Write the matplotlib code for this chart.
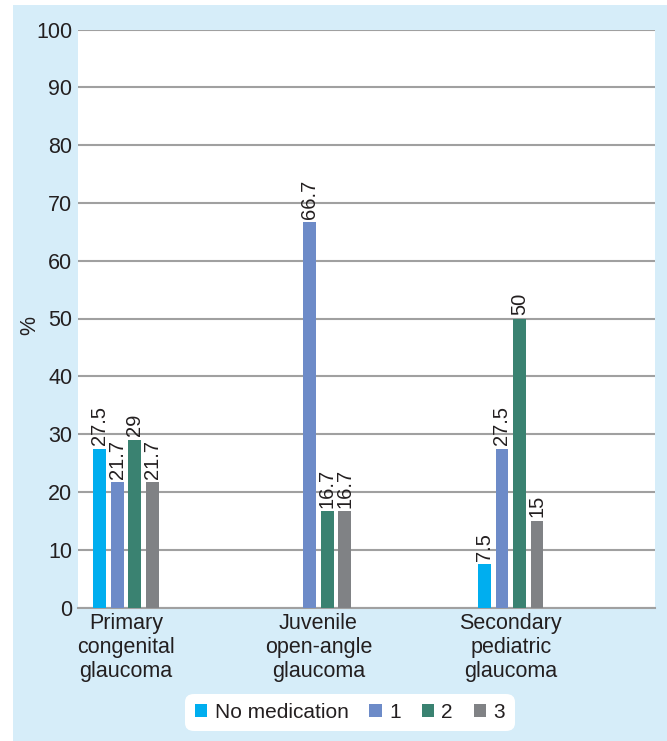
import numpy as np
import matplotlib.pyplot as plt
from matplotlib.patches import Rectangle

plt.rcParams['font.family'] = ['Liberation Sans', 'DejaVu Sans']

categories = ["Primary\ncongenital\nglaucoma", "Juvenile\nopen-angle\nglaucoma", "Secondary\npediatric\nglaucoma"]
series = ["No medication", "1", "2", "3"]
no_med = [27.5, None, 7.5]
one_med = [21.7, 66.7, 27.5]
two_med = [29, 16.7, 50]
three_med = [21.7, 16.7, 15]
colors = ["#00aeef", "#6d8bc8", "#3a8271", "#808285"]

txt = "#231f20"
fig = plt.figure(figsize=(6.67, 7.41), dpi=100, facecolor="white")
fig.patches.append(Rectangle((13/667, 0), 1, 1 - 5/741, transform=fig.transFigure,
                             facecolor="#d6edf9", edgecolor="none", zorder=-10))
ax = fig.add_axes([78/667, 1 - 607.5/741, 577/667, 578/741])
ax.set_facecolor("white")

x = np.arange(len(categories))
pitch = 0.091
width = 0.066
for i, (vals, name) in enumerate(zip([no_med, one_med, two_med, three_med], series)):
    xs = [xx + (i - 1.5) * pitch for xx, v in zip(x, vals) if v is not None]
    vs = [v for v in vals if v is not None]
    ax.bar(xs, vs, width, color=colors[i], label=name, zorder=3)
    for xx, v in zip(xs, vs):
        ax.annotate(f"{v:g}", (xx, v), xytext=(0, 2.5), textcoords="offset points",
                    rotation=90, ha="center", va="bottom", fontsize=14.5, color=txt)

ax.set_xlim(-0.25, 2.75)
ax.set_ylim(0, 100)
ax.set_yticks(range(0, 101, 10))
ax.set_xticks(x)
ax.set_xticklabels(categories, fontsize=15.5, color=txt, linespacing=1.2)
ax.tick_params(axis="y", labelsize=15.5, labelcolor=txt, length=0, pad=4)
ax.tick_params(axis="x", length=0, pad=4)
ax.yaxis.grid(True, color="#a0a0a0", lw=1.5)
ax.set_axisbelow(True)
for s in ["top", "right", "left"]:
    ax.spines[s].set_visible(False)
ax.spines["bottom"].set_color("#a0a0a0")
ax.spines["bottom"].set_linewidth(1.5)

ax.set_ylabel("%", fontsize=15.5, color=txt)
ax.yaxis.set_label_coords(-0.066, 0.488)

leg = fig.legend(loc="center", bbox_to_anchor=(350/667, 1 - 712.5/741), ncol=4,
                 fontsize=15, frameon=True, handlelength=0.6, handleheight=0.6,
                 handletextpad=0.35, columnspacing=1.0, borderpad=0.45)
for t in leg.get_texts():
    t.set_color(txt)
fr = leg.get_frame()
fr.set_facecolor("white")
fr.set_edgecolor("none")
fr.set_alpha(1)
fr.set_boxstyle("round", pad=0, rounding_size=0.4)

fig.savefig("out.png", dpi=100)
